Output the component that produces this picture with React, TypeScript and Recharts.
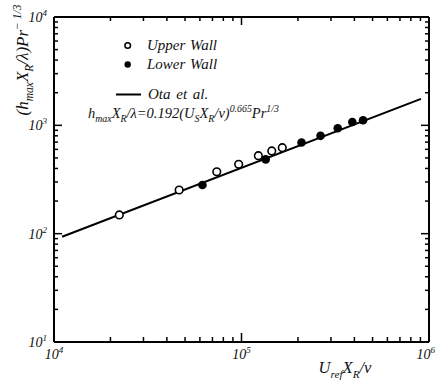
import React from 'react';
import { ScatterChart, Scatter, XAxis, YAxis } from 'recharts';

const upperX = [22300, 46500, 73800, 96600, 123000, 145000, 165000];
const upperY = [149, 253, 373, 437, 525, 580, 622];
const lowerX = [61900, 134600, 209000, 264000, 326000, 390000, 445000];
const lowerY = [281, 485, 695, 800, 940, 1074, 1114];
const fitX = [11040, 906000];
const fitY = [93.7, 1756];

const xTicks = [
  1e4, 2e4, 3e4, 4e4, 5e4, 6e4, 7e4, 8e4, 9e4,
  1e5, 2e5, 3e5, 4e5, 5e5, 6e5, 7e5, 8e5, 9e5, 1e6,
];
const yTicks = [
  10, 20, 30, 40, 50, 60, 70, 80, 90,
  100, 200, 300, 400, 500, 600, 700, 800, 900,
  1000, 2000, 3000, 4000, 5000, 6000, 7000, 8000, 9000, 10000,
];

const upperData = upperX.map((x, i) => ({ x, y: upperY[i] }));
const lowerData = lowerX.map((x, i) => ({ x, y: lowerY[i] }));
const fitData = fitX.map((x, i) => ({ x, y: fitY[i] }));

const W = 436;
const H = 385;
const FONT = "'Liberation Serif', 'DejaVu Serif', serif";
const TS: React.CSSProperties = { fontFamily: FONT, fontStyle: 'italic' };

const exp10 = (v: number) => {
  const e = Math.round(Math.log10(v));
  return Math.abs(Math.pow(10, e) - v) < 1e-6 * v ? e : null;
};

const TickBottom = (p: any) => {
  const { x, y, payload } = p;
  const e = exp10(payload.value);
  const len = e !== null ? 9 : 5;
  const atEdge = x > W - 20;
  return (
    <g>
      <line x1={x} x2={x} y1={y} y2={y - len} stroke="#000" strokeWidth={1.5} />
      {e !== null && (
        <text
          x={atEdge ? W - 1 : x}
          y={y + 17}
          textAnchor={atEdge ? 'end' : 'middle'}
          style={TS}
          fontSize={14}
          fill="#111"
        >
          10<tspan dy={-6} fontSize={9}>{e}</tspan>
        </text>
      )}
    </g>
  );
};

const TickTop = (p: any) => {
  const { x, y, payload } = p;
  const e = exp10(payload.value);
  const len = e !== null ? 8 : 4;
  return <line x1={x} x2={x} y1={y} y2={y + len} stroke="#000" strokeWidth={1.5} />;
};

const TickLeft = (p: any) => {
  const { x, y, payload } = p;
  const e = exp10(payload.value);
  const len = e !== null ? 8 : 4;
  return (
    <g>
      <line x1={x} x2={x + len} y1={y} y2={y} stroke="#000" strokeWidth={1.5} />
      {e !== null && (
        <text x={x - 7} y={y + 5} textAnchor="end" style={TS} fontSize={14} fill="#111">
          10<tspan dy={-6} fontSize={9}>{e}</tspan>
        </text>
      )}
    </g>
  );
};

const TickRight = (p: any) => {
  const { x, y, payload } = p;
  const e = exp10(payload.value);
  const len = e !== null ? 8 : 4;
  return <line x1={x} x2={x - len} y1={y} y2={y} stroke="#000" strokeWidth={1.5} />;
};

const OpenDot = (p: any) => (
  <circle cx={p.cx} cy={p.cy} r={3.8} fill="#fff" stroke="#000" strokeWidth={1.6} />
);
const FilledDot = (p: any) => <circle cx={p.cx} cy={p.cy} r={4.3} fill="#000" />;
const NoDot = () => <g />;

type Seg = { t: string; k?: 'sub' | 'sup' };
const RichText = ({ segs, size, x, y, anchor, transform }: { segs: Seg[]; size: number; x: number; y: number; anchor?: string; transform?: string }) => {
  let cur = 0;
  const off = (k?: string) => (k === 'sub' ? size * 0.28 : k === 'sup' ? -size * 0.42 : 0);
  return (
    <text x={x} y={y} textAnchor={anchor as any} transform={transform} style={TS} fontSize={size} fill="#111">
      {segs.map((s, i) => {
        const target = off(s.k);
        const dy = target - cur;
        cur = target;
        return (
          <tspan key={i} dy={dy} fontSize={s.k ? size * 0.68 : size}>
            {s.t}
          </tspan>
        );
      })}
    </text>
  );
};

const formula: Seg[] = [
  { t: 'h' }, { t: 'max', k: 'sub' }, { t: 'X' }, { t: 'R', k: 'sub' },
  { t: '/λ=0.192(U' }, { t: 'S', k: 'sub' }, { t: 'X' }, { t: 'R', k: 'sub' },
  { t: '/ν)' }, { t: '0.665', k: 'sup' }, { t: 'Pr' }, { t: '1/3', k: 'sup' },
];
const yLabel: Seg[] = [
  { t: '(h' }, { t: 'max', k: 'sub' }, { t: 'X' }, { t: 'R', k: 'sub' },
  { t: '/λ)Pr' }, { t: '− 1/3', k: 'sup' },
];
const xLabel: Seg[] = [
  { t: 'U' }, { t: 'ref', k: 'sub' }, { t: 'X' }, { t: 'R', k: 'sub' }, { t: '/ν' },
];

export default function App() {
  return (
    <div style={{ position: 'absolute', left: 0, top: 0, width: W, height: H, background: '#fff' }}>
      <ScatterChart width={W} height={H} margin={{ top: 16, right: 6, bottom: 42, left: 53 }}>
        <XAxis
          xAxisId="b"
          dataKey="x"
          type="number"
          scale="log"
          domain={[1e4, 1e6]}
          allowDataOverflow
          ticks={xTicks}
          interval={0}
          height={1}
          tickSize={0}
          tickMargin={0}
          axisLine={{ stroke: '#000', strokeWidth: 2 }}
          tick={TickBottom}
        />
        <XAxis
          xAxisId="t"
          orientation="top"
          dataKey="x"
          type="number"
          scale="log"
          domain={[1e4, 1e6]}
          allowDataOverflow
          ticks={xTicks}
          interval={0}
          height={1}
          tickSize={0}
          tickMargin={0}
          axisLine={{ stroke: '#000', strokeWidth: 2 }}
          tick={TickTop}
        />
        <YAxis
          yAxisId="l"
          dataKey="y"
          type="number"
          scale="log"
          domain={[10, 10000]}
          allowDataOverflow
          ticks={yTicks}
          interval={0}
          width={1}
          tickSize={0}
          tickMargin={0}
          axisLine={{ stroke: '#000', strokeWidth: 2 }}
          tick={TickLeft}
        />
        <YAxis
          yAxisId="r"
          orientation="right"
          dataKey="y"
          type="number"
          scale="log"
          domain={[10, 10000]}
          allowDataOverflow
          ticks={yTicks}
          interval={0}
          width={1}
          tickSize={0}
          tickMargin={0}
          axisLine={{ stroke: '#000', strokeWidth: 2 }}
          tick={TickRight}
        />
        <Scatter xAxisId="t" yAxisId="r" data={fitData} shape={NoDot} isAnimationActive={false} />
        <Scatter
          xAxisId="b"
          yAxisId="l"
          data={fitData}
          line={{ stroke: '#000', strokeWidth: 2 }}
          lineType="joint"
          shape={NoDot}
          isAnimationActive={false}
        />
        <Scatter xAxisId="b" yAxisId="l" data={upperData} shape={OpenDot} isAnimationActive={false} />
        <Scatter xAxisId="b" yAxisId="l" data={lowerData} shape={FilledDot} isAnimationActive={false} />
      </ScatterChart>
      <svg width={W} height={H} style={{ position: 'absolute', left: 0, top: 0, pointerEvents: 'none' }}>
        <circle cx={127.7} cy={45.5} r={2.8} fill="#fff" stroke="#000" strokeWidth={1.5} />
        <text x={147} y={50} style={TS} fontSize={15} fill="#111" wordSpacing={1}>Upper Wall</text>
        <circle cx={127.7} cy={64.5} r={3.2} fill="#000" />
        <text x={147} y={69} style={TS} fontSize={15} fill="#111" wordSpacing={1}>Lower Wall</text>
        <line x1={116} x2={141} y1={94.5} y2={94.5} stroke="#000" strokeWidth={2} />
        <text x={148} y={99} style={TS} fontSize={15} fill="#111" wordSpacing={2}>Ota et al.</text>
        <RichText segs={formula} size={14.5} x={88} y={118} />
        <RichText segs={yLabel} size={17} x={28} y={60} anchor="middle" transform="rotate(-90 28 60)" />
        <RichText segs={xLabel} size={16.5} x={345} y={373} anchor="middle" />
      </svg>
    </div>
  );
}
